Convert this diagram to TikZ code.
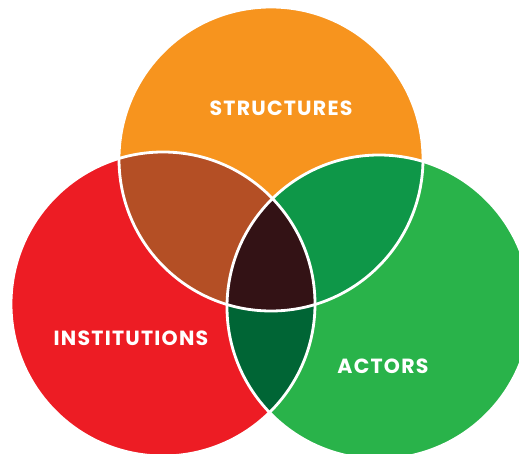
\documentclass[tikz,border=0pt]{standalone}
\usepackage{fontspec}
\setmainfont{Poppins}[BoldFont={* Bold}]
\definecolor{structOrange}{HTML}{F7941E}
\definecolor{instRed}{HTML}{ED1C24}
\definecolor{actGreen}{HTML}{29B34A}
\definecolor{siBrown}{HTML}{B44F25}
\definecolor{saGreen}{HTML}{0E9748}
\definecolor{iaGreen}{HTML}{006535}
\definecolor{allDark}{HTML}{331215}
\tikzset{
  ring/.style={draw=white, line width=2.8pt},
  label/.style={text=white, inner sep=0pt,
    font=\fontsize{20.5}{24}\selectfont\bfseries\addfontfeature{LetterSpace=6}}
}
\begin{document}
\begin{tikzpicture}[x=1pt,y=-1pt]
  \useasboundingbox (0,0) rectangle (519,454);
  \clip (0,0) rectangle (519,454);
  \coordinate (cS) at (271,159);
  \coordinate (cI) at (163,304);
  \coordinate (cA) at (379,307);
  \def\rad{152pt}
  % base discs
  \fill[structOrange] (cS) circle[radius=\rad];
  \fill[instRed] (cI) circle[radius=\rad];
  \fill[actGreen] (cA) circle[radius=\rad];
  % pairwise overlaps
  \begin{scope}
    \clip (cS) circle[radius=\rad];
    \fill[siBrown] (cI) circle[radius=\rad];
    \fill[saGreen] (cA) circle[radius=\rad];
  \end{scope}
  \begin{scope}
    \clip (cI) circle[radius=\rad];
    \fill[iaGreen] (cA) circle[radius=\rad];
    % triple overlap
    \clip (cA) circle[radius=\rad];
    \fill[allDark] (cS) circle[radius=\rad];
  \end{scope}
  % white outlines
  \draw[ring] (cS) circle[radius=\rad];
  \draw[ring] (cI) circle[radius=\rad];
  \draw[ring] (cA) circle[radius=\rad];
  % labels
  \node[label] (lS) at (281,108) {STRUCTURES};
  \node[label] (lI) at (131,338.5) {INSTITUTIONS};
  \node[label] (lA) at (383,366.5) {ACTORS};
\end{tikzpicture}
\end{document}
